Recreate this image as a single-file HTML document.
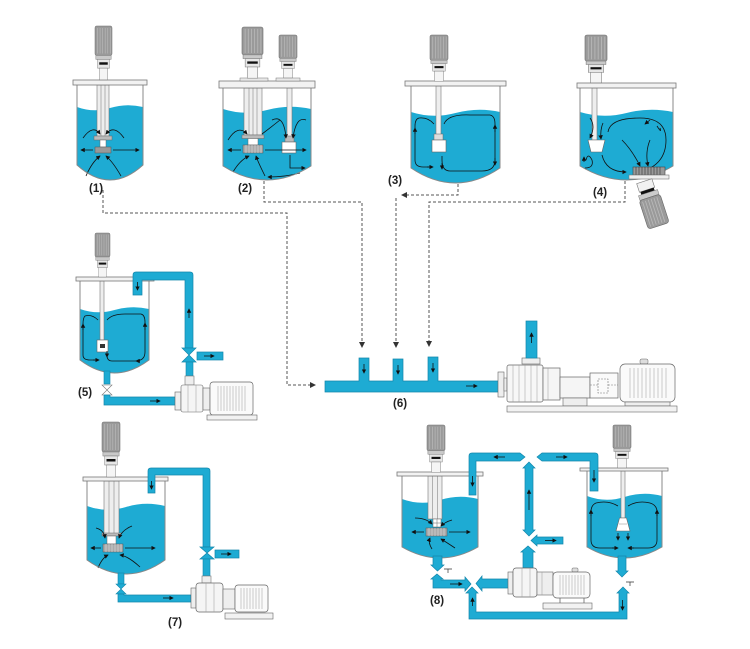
<!DOCTYPE html>
<html><head><meta charset="utf-8"><style>html,body{margin:0;padding:0;background:#fff}svg{display:block}</style></head>
<body>
<svg width="750" height="649" viewBox="0 0 750 649" xmlns="http://www.w3.org/2000/svg" xmlns:xlink="http://www.w3.org/1999/xlink" font-family="Liberation Sans, sans-serif">
<defs>
<marker id="ah" viewBox="0 0 6 6" refX="5" refY="3" markerUnits="userSpaceOnUse" markerWidth="4.5" markerHeight="4.5" orient="auto"><path d="M0 0L6 3L0 6z" fill="#111"/></marker>
<marker id="dh" viewBox="0 0 6 6" refX="5" refY="3" markerUnits="userSpaceOnUse" markerWidth="6" markerHeight="6" orient="auto"><path d="M0 0L6 3L0 6z" fill="#333"/></marker>
<g id="motor">
 <rect x="0" y="0" width="20" height="30" rx="2" fill="#9a9a9a" stroke="#6f6f6f" stroke-width="0.6"/>
 <path d="M3 2V28M6 2V28M9 2V28M12 2V28M15 2V28M18 2V28" stroke="#b8b8b8" stroke-width="0.8"/>
 <rect x="1" y="30" width="18" height="4" fill="#c9c9c9" stroke="#777" stroke-width="0.5"/>
 <rect x="3" y="34" width="14" height="9" fill="#e6e6e6" stroke="#777" stroke-width="0.5"/>
 <rect x="5" y="37" width="10" height="2.5" fill="#111"/>
 <rect x="5" y="43" width="10" height="12" fill="#f5f5f5" stroke="#777" stroke-width="0.5"/>
</g>
</defs>

<!-- ================= dashed connectors ================= -->
<g fill="none" stroke="#555" stroke-width="1" stroke-dasharray="3 2">
<path d="M103 190V213H287V385H315" marker-end="url(#dh)"/>
<path d="M264 181V202H362V347" marker-end="url(#dh)"/>
<path d="M458 184V195H402" marker-end="url(#dh)"/>
<path d="M396 198V347" marker-end="url(#dh)"/>
<path d="M625 181V202H429V346" marker-end="url(#dh)"/>
</g>

<!-- ================= TANK 1 ================= -->
<path d="M77 107Q93.5 113 110 108T143 107L143 165Q110 195 77 165Z" fill="#1eabd3"/>
<rect x="97" y="85" width="12" height="51" fill="#eeeeee" stroke="#777" stroke-width="0.6"/>
<path d="M101 85V136M105 85V136" stroke="#888" stroke-width="0.6"/>
<rect x="94" y="136" width="18" height="4" fill="#bbb" stroke="#666" stroke-width="0.5"/>
<rect x="100" y="140" width="6" height="7" fill="#fff" stroke="#666" stroke-width="0.5"/>
<rect x="95" y="147" width="16" height="6" fill="#999" stroke="#555" stroke-width="0.5"/>
<g fill="none" stroke="#111" stroke-width="0.8">
<path d="M93 150H81" marker-end="url(#ah)"/>
<path d="M113 150H139" marker-end="url(#ah)"/>
<path d="M86 176Q92 162 100 156" marker-end="url(#ah)"/>
<path d="M121 176Q113 162 106 156" marker-end="url(#ah)"/>
<path d="M83 138Q93 124 100 134" marker-end="url(#ah)"/>
<path d="M124 138Q114 124 106 134" marker-end="url(#ah)"/>
</g>
<path d="M77 85V165Q110 195 143 165V85" fill="none" stroke="#888" stroke-width="1"/>
<rect x="73" y="80" width="74" height="5" fill="#f2f2f2" stroke="#777" stroke-width="0.8"/>
<use xlink:href="#motor" transform="translate(95 26) scale(0.85 0.98)"/>
<text x="89" y="192" font-size="11.5" font-weight="bold" fill="#222">(1)</text>

<!-- ================= TANK 2 ================= -->
<path d="M223 109Q245 116 267 110T311 109L311 166Q267 194 223 166Z" fill="#1eabd3"/>
<rect x="244" y="88" width="18" height="47" fill="#eeeeee" stroke="#777" stroke-width="0.6"/>
<path d="M249 88V135M253 88V135M257 88V135" stroke="#888" stroke-width="0.6"/>
<rect x="242" y="135" width="22" height="3.5" fill="#bbb" stroke="#666" stroke-width="0.5"/>
<rect x="248" y="138.5" width="10" height="6.5" fill="#fff" stroke="#666" stroke-width="0.5"/>
<rect x="243" y="145" width="20" height="8" fill="#aaa" stroke="#555" stroke-width="0.5"/>
<path d="M246 145V153M249 145V153M252 145V153M255 145V153M258 145V153M261 145V153" stroke="#ddd" stroke-width="0.6"/>
<rect x="287" y="88" width="5" height="50" fill="#eeeeee" stroke="#777" stroke-width="0.6"/>
<rect x="285" y="136" width="9" height="6" fill="#bbb" stroke="#666" stroke-width="0.5"/>
<rect x="282" y="142" width="14" height="11" fill="#fff" stroke="#666" stroke-width="0.6"/>
<g fill="none" stroke="#111" stroke-width="0.8">
<path d="M241 150H228" marker-end="url(#ah)"/>
<path d="M265 150H306" marker-end="url(#ah)"/>
<path d="M233 172Q240 160 249 156" marker-end="url(#ah)"/>
<path d="M265 176Q258 162 256 156" marker-end="url(#ah)"/>
<path d="M228 140Q238 124 247 134" marker-end="url(#ah)"/>
<path d="M280 120Q270 128 262 134"/>
<path d="M272 120Q284 114 286 138" marker-end="url(#ah)"/>
<path d="M306 120Q296 116 293 138" marker-end="url(#ah)"/>
<path d="M290 155V168H305" marker-end="url(#ah)"/>
<path d="M300 173Q285 177 268 177" marker-end="url(#ah)"/>
</g>
<path d="M223 88V166Q267 194 311 166V88" fill="none" stroke="#888" stroke-width="1"/>
<rect x="219" y="81" width="96" height="7" fill="#f2f2f2" stroke="#777" stroke-width="0.8"/>
<rect x="240" y="78" width="28" height="3" fill="#e8e8e8" stroke="#777" stroke-width="0.5"/>
<rect x="276" y="78" width="24" height="3" fill="#e8e8e8" stroke="#777" stroke-width="0.5"/>
<use xlink:href="#motor" transform="translate(242 27) scale(1.05 0.93)"/>
<use xlink:href="#motor" transform="translate(279 35) scale(0.9 0.78)"/>
<text x="238" y="192" font-size="11.5" font-weight="bold" fill="#222">(2)</text>

<!-- ================= TANK 3 ================= -->
<path d="M411 112Q433 119 455.5 113T500 112L500 168Q455.5 198 411 168Z" fill="#1eabd3"/>
<rect x="436" y="86" width="5" height="54" fill="#eeeeee" stroke="#777" stroke-width="0.6"/>
<rect x="434" y="134" width="9" height="6" fill="#ddd" stroke="#666" stroke-width="0.5"/>
<rect x="432" y="140" width="14" height="12" fill="#fff" stroke="#666" stroke-width="0.6"/>
<g fill="none" stroke="#111" stroke-width="0.8">
<path d="M434 124Q428 117 419 118Q415 119 415 126V160Q415 167 423 167H432"/>
<path d="M444 124Q448 114 470 115H490Q495 116 495 124V160Q495 171 482 171H450Q442 171 442 160V156"/>
<path d="M415 134V128" marker-end="url(#ah)"/>
<path d="M427 167H433" marker-end="url(#ah)"/>
<path d="M495 132V125" marker-end="url(#ah)"/>
<path d="M495 158V165" marker-end="url(#ah)"/>
<path d="M442 163V169" marker-end="url(#ah)"/>
</g>
<path d="M411 86V168Q455.5 198 500 168V86" fill="none" stroke="#888" stroke-width="1"/>
<rect x="405" y="81" width="101" height="5" fill="#f2f2f2" stroke="#777" stroke-width="0.8"/>
<use xlink:href="#motor" transform="translate(430 35) scale(0.9 0.84)"/>
<text x="388" y="184" font-size="11.5" font-weight="bold" fill="#222">(3)</text>

<!-- ================= TANK 4 ================= -->
<path d="M580 112Q603 119 626.5 113T673 112L673 166Q626.5 194 580 166Z" fill="#1eabd3"/>
<rect x="592" y="88" width="5" height="52" fill="#eeeeee" stroke="#777" stroke-width="0.6"/>
<path d="M588 140H605L602 152H591Z" fill="#fff" stroke="#666" stroke-width="0.6"/>
<g fill="none" stroke="#111" stroke-width="0.8">
<path d="M590 118Q596 126 590 138" marker-end="url(#ah)"/>
<path d="M603 123Q600 130 601 139" marker-end="url(#ah)"/>
<path d="M586 160Q588 152 592 160Q594 168 585 168"/>
<path d="M584 162V157" marker-end="url(#ah)"/>
<path d="M602 155Q606 172 626 172" marker-end="url(#ah)"/>
<path d="M608 132Q610 118 640 118Q666 118 666 140Q666 165 640 172" />
<path d="M650 120L645 124" marker-end="url(#ah)"/>
<path d="M622 140Q632 150 640 166" marker-end="url(#ah)"/>
<path d="M650 140Q645 152 648 166" marker-end="url(#ah)"/>
<path d="M660 128Q662 134 657 126" />
</g>
<path d="M580 88V166Q626.5 194 673 166V88" fill="none" stroke="#888" stroke-width="1"/>
<rect x="577" y="83" width="99" height="5" fill="#f2f2f2" stroke="#777" stroke-width="0.8"/>
<use xlink:href="#motor" transform="translate(585 35) scale(1.1 0.87)"/>
<!-- side mixer -->
<rect x="633" y="167" width="32" height="8" fill="#999" stroke="#444" stroke-width="0.6"/>
<path d="M636 167V175M639 167V175M642 167V175M645 167V175M648 167V175M651 167V175M654 167V175M657 167V175M660 167V175" stroke="#333" stroke-width="0.6"/>
<rect x="629" y="175" width="40" height="4" fill="#eee" stroke="#777" stroke-width="0.6"/>
<g transform="rotate(-18 652 205)">
<rect x="644" y="180" width="16" height="9" fill="#f2f2f2" stroke="#777" stroke-width="0.6"/>
<rect x="645" y="189" width="14" height="3" fill="#111"/>
<rect x="642" y="192" width="20" height="5" fill="#ccc" stroke="#777" stroke-width="0.5"/>
<rect x="641" y="197" width="22" height="30" rx="3" fill="#9a9a9a" stroke="#666" stroke-width="0.6"/>
<path d="M644 199V225M647 199V225M650 199V225M653 199V225M656 199V225M659 199V225" stroke="#bbb" stroke-width="0.8"/>
</g>
<text x="593" y="196" font-size="11.5" font-weight="bold" fill="#222">(4)</text>

<!-- ================= TANK 5 ================= -->
<path d="M80 309Q97 315 114.5 310T149 309L149 360Q114.5 386 80 360Z" fill="#1eabd3"/>
<rect x="100" y="281" width="4" height="59" fill="#eeeeee" stroke="#777" stroke-width="0.6"/>
<rect x="97" y="340" width="11" height="12" fill="#fff" stroke="#666" stroke-width="0.6"/>
<rect x="100" y="344" width="5" height="4" fill="#333"/>
<g fill="none" stroke="#111" stroke-width="0.8">
<path d="M98 320Q92 314 85 316Q83 318 83 324V355Q83 360 90 360H98"/>
<path d="M107 320Q112 314 125 314H141Q145 315 145 322V352Q145 361 135 361H112Q107 361 107 355"/>
<path d="M83 330V324" marker-end="url(#ah)"/>
<path d="M93 360H99" marker-end="url(#ah)"/>
<path d="M145 330V323" marker-end="url(#ah)"/>
<path d="M107 351V357" marker-end="url(#ah)"/>
<path d="M140 361H136" marker-end="url(#ah)"/>
</g>
<path d="M80 281V360Q114.5 386 149 360V281" fill="none" stroke="#888" stroke-width="1"/>
<rect x="76" y="277" width="78" height="4" fill="#f2f2f2" stroke="#777" stroke-width="0.8"/>
<use xlink:href="#motor" transform="translate(95 233) scale(0.75 0.8)"/>
<!-- return pipe -->
<path d="M133 295V275Q133 272 136 272H190Q193 272 193 275V348H185V280H142V295Z" fill="#1eabd3" stroke="#1386ab" stroke-width="0.7"/>
<path d="M137.5 282V290" stroke="#111" stroke-width="0.8" marker-end="url(#ah)"/>
<path d="M189 318V309" stroke="#111" stroke-width="0.8" marker-end="url(#ah)"/>
<!-- valve -->
<path d="M182 348H196L189 355ZM182 362H196L189 355Z" fill="#1eabd3" stroke="#1386ab" stroke-width="0.7"/>
<rect x="197" y="352" width="26" height="8" fill="#1eabd3" stroke="#1386ab" stroke-width="0.7"/>
<path d="M204 356H214" stroke="#111" stroke-width="0.8" marker-end="url(#ah)"/>
<rect x="186" y="362" width="7" height="14" fill="#1eabd3" stroke="#1386ab" stroke-width="0.6"/>
<rect x="185" y="376" width="9" height="9" fill="#eee" stroke="#777" stroke-width="0.6"/>
<!-- bottom outlet -->
<rect x="104" y="371" width="6" height="13" fill="#1eabd3" stroke="#1386ab" stroke-width="0.6"/>
<path d="M102 385H112L107 390ZM102 395H112L107 390Z" fill="#fff" stroke="#777" stroke-width="0.6"/>
<path d="M104 395V405H176V397H110V395Z" fill="#1eabd3" stroke="#1386ab" stroke-width="0.7"/>
<path d="M150 401H160" stroke="#111" stroke-width="0.8" marker-end="url(#ah)"/>
<!-- pump 5 -->
<rect x="175" y="392" width="6" height="18" fill="#eee" stroke="#666" stroke-width="0.6"/>
<rect x="181" y="385" width="22" height="27" rx="2" fill="#f5f5f5" stroke="#666" stroke-width="0.6"/>
<path d="M188 385V412M196 385V412" stroke="#999" stroke-width="0.5"/>
<rect x="203" y="388" width="7" height="22" fill="#eee" stroke="#666" stroke-width="0.6"/>
<rect x="210" y="382" width="43" height="33" rx="3" fill="#fafafa" stroke="#666" stroke-width="0.7"/>
<path d="M218 386V411M221 386V411M224 386V411M227 386V411M230 386V411M233 386V411M236 386V411M239 386V411M242 386V411M245 386V411" stroke="#999" stroke-width="0.5"/>
<rect x="207" y="415" width="50" height="5" fill="#f2f2f2" stroke="#666" stroke-width="0.6"/>
<text x="78" y="396" font-size="11.5" font-weight="bold" fill="#222">(5)</text>

<!-- ================= (6) manifold + pump ================= -->
<path d="M325 381H359V358H369V381H393V359H403V381H428V357H438V381H499V392H325Z" fill="#1eabd3" stroke="#1386ab" stroke-width="0.7"/>
<g stroke="#111" stroke-width="0.8" fill="none">
<path d="M364 364V373" marker-end="url(#ah)"/>
<path d="M398 365V374" marker-end="url(#ah)"/>
<path d="M433 363V372" marker-end="url(#ah)"/>
<path d="M466 386H477" marker-end="url(#ah)"/>
</g>
<rect x="498" y="372" width="6" height="25" fill="#eee" stroke="#666" stroke-width="0.6"/>
<rect x="504" y="378" width="3" height="13" fill="#eee" stroke="#666" stroke-width="0.5"/>
<rect x="507" y="365" width="36" height="37" rx="2" fill="#f7f7f7" stroke="#666" stroke-width="0.7"/>
<path d="M513 365V402M519 365V402M525 365V402M531 365V402M537 365V402" stroke="#999" stroke-width="0.5"/>
<rect x="522" y="358" width="18" height="6" fill="#eee" stroke="#666" stroke-width="0.6"/>
<rect x="526" y="321" width="11" height="37" fill="#1eabd3" stroke="#1386ab" stroke-width="0.7"/>
<path d="M531.5 343V333" stroke="#111" stroke-width="0.8" marker-end="url(#ah)"/>
<rect x="543" y="368" width="17" height="32" fill="#f5f5f5" stroke="#666" stroke-width="0.7"/>
<path d="M548 368V400" stroke="#999" stroke-width="0.5"/>
<rect x="560" y="377" width="30" height="21" fill="#f5f5f5" stroke="#666" stroke-width="0.7"/>
<rect x="563" y="398" width="24" height="8" fill="#eee" stroke="#666" stroke-width="0.6"/>
<rect x="590" y="373" width="28" height="25" fill="#fafafa" stroke="#666" stroke-width="0.7"/>
<rect x="598" y="379" width="10" height="14" fill="none" stroke="#777" stroke-width="0.6" stroke-dasharray="2 1"/>
<path d="M590 385H598M608 385H618" stroke="#777" stroke-width="0.5" stroke-dasharray="2 1"/>
<rect x="640" y="359" width="8" height="5" rx="1.5" fill="#ddd" stroke="#666" stroke-width="0.5"/>
<rect x="620" y="364" width="55" height="38" rx="5" fill="#fafafa" stroke="#666" stroke-width="0.7"/>
<path d="M630 368V398M634 368V398M638 368V398M642 368V398M646 368V398M650 368V398M654 368V398M658 368V398M662 368V398M666 368V398" stroke="#999" stroke-width="0.5"/>
<rect x="625" y="402" width="45" height="4" fill="#eee" stroke="#666" stroke-width="0.6"/>
<rect x="507" y="406" width="170" height="6" fill="#f2f2f2" stroke="#666" stroke-width="0.6"/>
<text x="393" y="407" font-size="11.5" font-weight="bold" fill="#222">(6)</text>

<!-- ================= TANK 7 ================= -->
<path d="M87 506Q106.5 513 126 507T165 506L165 560Q126 588 87 560Z" fill="#1eabd3"/>
<rect x="104" y="481" width="15" height="53" fill="#eeeeee" stroke="#777" stroke-width="0.6"/>
<path d="M109 481V534M114 481V534" stroke="#888" stroke-width="0.6"/>
<rect x="102" y="533" width="19" height="3" fill="#bbb" stroke="#666" stroke-width="0.5"/>
<rect x="107" y="536" width="9" height="8" fill="#fff" stroke="#666" stroke-width="0.5"/>
<rect x="103" y="544" width="20" height="8" fill="#aaa" stroke="#555" stroke-width="0.5"/>
<path d="M106 544V552M109 544V552M112 544V552M115 544V552M118 544V552M121 544V552" stroke="#ddd" stroke-width="0.6"/>
<g fill="none" stroke="#111" stroke-width="0.8">
<path d="M101 548H91" marker-end="url(#ah)"/>
<path d="M125 548H155" marker-end="url(#ah)"/>
<path d="M98 568Q102 558 108 555" marker-end="url(#ah)"/>
<path d="M140 567Q128 556 120 555" marker-end="url(#ah)"/>
<path d="M96 528Q104 530 105 538" marker-end="url(#ah)"/>
<path d="M132 526Q122 530 119 538" marker-end="url(#ah)"/>
</g>
<path d="M87 481V560Q126 588 165 560V481" fill="none" stroke="#888" stroke-width="1"/>
<rect x="83" y="477" width="85" height="4" fill="#f2f2f2" stroke="#777" stroke-width="0.8"/>
<use xlink:href="#motor" transform="translate(102 422) scale(0.9 1)"/>
<path d="M148 493V471Q148 468 151 468H207Q210 468 210 471V547H203V475H155V493Z" fill="#1eabd3" stroke="#1386ab" stroke-width="0.7"/>
<path d="M151.5 481V489" stroke="#111" stroke-width="0.8" marker-end="url(#ah)"/>
<path d="M200 547H214L207 553ZM200 559H214L207 553Z" fill="#1eabd3" stroke="#1386ab" stroke-width="0.7"/>
<rect x="215" y="550" width="24" height="8" fill="#1eabd3" stroke="#1386ab" stroke-width="0.7"/>
<path d="M221 554H231" stroke="#111" stroke-width="0.8" marker-end="url(#ah)"/>
<rect x="203" y="559" width="7" height="17" fill="#1eabd3" stroke="#1386ab" stroke-width="0.6"/>
<rect x="202" y="576" width="9" height="7" fill="#eee" stroke="#777" stroke-width="0.6"/>
<rect x="118" y="573" width="6" height="11" fill="#1eabd3" stroke="#1386ab" stroke-width="0.6"/>
<path d="M116 584H126L121 589ZM116 594H126L121 589Z" fill="#1eabd3" stroke="#1386ab" stroke-width="0.6"/>
<path d="M118 594V602H191V595H124V594Z" fill="#1eabd3" stroke="#1386ab" stroke-width="0.7"/>
<path d="M163 598H173" stroke="#111" stroke-width="0.8" marker-end="url(#ah)"/>
<rect x="191" y="588" width="5" height="20" fill="#eee" stroke="#666" stroke-width="0.6"/>
<rect x="196" y="583" width="27" height="29" rx="3" fill="#f5f5f5" stroke="#666" stroke-width="0.7"/>
<path d="M206 583V612M214 583V612" stroke="#999" stroke-width="0.5"/>
<rect x="223" y="589" width="12" height="20" fill="#eee" stroke="#666" stroke-width="0.6"/>
<rect x="235" y="585" width="33" height="27" rx="3" fill="#fafafa" stroke="#666" stroke-width="0.7"/>
<path d="M241 588V609M244 588V609M247 588V609M250 588V609M253 588V609M256 588V609M259 588V609M262 588V609" stroke="#999" stroke-width="0.5"/>
<rect x="225" y="613" width="48" height="6" fill="#f2f2f2" stroke="#666" stroke-width="0.6"/>
<text x="168" y="626" font-size="11.5" font-weight="bold" fill="#222">(7)</text>

<!-- ================= TANK 8 LEFT ================= -->
<path d="M402 499Q421 506 440 500T478 499L478 547Q440 569 402 547Z" fill="#1eabd3"/>
<rect x="428" y="476" width="14" height="43" fill="#eeeeee" stroke="#777" stroke-width="0.6"/>
<path d="M432.5 476V519M437.5 476V519" stroke="#888" stroke-width="0.6"/>
<rect x="433" y="519" width="8" height="8" fill="#fff" stroke="#666" stroke-width="0.5"/>
<path d="M437 519V527M433 523H441" stroke="#666" stroke-width="0.5"/>
<rect x="426" y="528" width="21" height="8" fill="#aaa" stroke="#555" stroke-width="0.5"/>
<path d="M429 528V536M432 528V536M435 528V536M438 528V536M441 528V536M444 528V536" stroke="#ddd" stroke-width="0.6"/>
<g fill="none" stroke="#111" stroke-width="0.8">
<path d="M424 532H412" marker-end="url(#ah)"/>
<path d="M449 532H470" marker-end="url(#ah)"/>
<path d="M415 518Q426 518 432 524" marker-end="url(#ah)"/>
<path d="M452 520Q445 522 441 526" marker-end="url(#ah)"/>
<path d="M432 549Q428 543 430 538" marker-end="url(#ah)"/>
<path d="M455 548Q446 542 441 539" marker-end="url(#ah)"/>
</g>
<path d="M402 476V547Q440 569 478 547V476" fill="none" stroke="#888" stroke-width="1"/>
<rect x="397" y="472" width="86" height="4" fill="#f2f2f2" stroke="#777" stroke-width="0.8"/>
<use xlink:href="#motor" transform="translate(427 425) scale(0.9 0.86)"/>
<text x="430" y="604" font-size="11.5" font-weight="bold" fill="#222">(8)</text>

<!-- ================= TANK 8 RIGHT ================= -->
<path d="M587 496Q605.5 503 624.5 497T662 496L662 547Q624.5 569 587 547Z" fill="#1eabd3"/>
<rect x="621" y="471" width="4" height="47" fill="#eeeeee" stroke="#777" stroke-width="0.6"/>
<path d="M616 531L619.5 518H626.5L630 531Z" fill="#fff" stroke="#666" stroke-width="0.6"/>
<path d="M619 524H627" stroke="#888" stroke-width="0.5"/>
<g fill="none" stroke="#111" stroke-width="0.8">
<path d="M618 506Q608 500 596 503Q591 505 591 512V540Q591 548 600 548H617"/>
<path d="M628 506Q638 500 650 503Q657 505 657 512V540Q657 548 648 548H630"/>
<path d="M591 516V510" marker-end="url(#ah)"/>
<path d="M657 516V510" marker-end="url(#ah)"/>
<path d="M612 548H618" marker-end="url(#ah)"/>
<path d="M634 548H628" marker-end="url(#ah)"/>
<path d="M618 533V540" marker-end="url(#ah)"/>
<path d="M628 533V540" marker-end="url(#ah)"/>
</g>
<path d="M587 471V547Q624.5 569 662 547V471" fill="none" stroke="#888" stroke-width="1"/>
<rect x="580" y="468" width="88" height="3" fill="#f2f2f2" stroke="#777" stroke-width="0.8"/>
<use xlink:href="#motor" transform="translate(613 425) scale(0.9 0.78)"/>

<!-- ================= (8) pipes ================= -->
<g fill="#1eabd3" stroke="#1386ab" stroke-width="0.7">
<path d="M469 495V456Q469 453 472 453H520L525 457L520 461H476V495Z"/>
<path d="M598 491V456Q598 453 595 453H542L537 457L542 461H590V491Z"/>
<path d="M529 462L535 468H533V530H535L529 536L523 530H525V468H523Z"/>
<path d="M563 537V544H537V546L531 540.5L537 535V537Z"/>
<path d="M523 568V552H521L528 546L535 552H533V568Z"/>
<path d="M512 579V588H482V591L476 583.5L482 576V579Z"/>
<path d="M433 556H442V565H444L437.5 571L431 565H433Z"/>
<path d="M437 574L443 579H441V580H465V577L471 584L465 591V588H433V579H431Z"/>
<path d="M472 587L478 593H476V612H619V593H617L623 587L629 593H627V619H469V593H466Z"/>
<path d="M618 556H626V571H628L622 577L616 571H618Z"/>
</g>
<g fill="none" stroke="#111" stroke-width="0.8">
<path d="M472.5 476V486" marker-end="url(#ah)"/>
<path d="M505 457H494" marker-end="url(#ah)"/>
<path d="M556 457H567" marker-end="url(#ah)"/>
<path d="M594 470V482" marker-end="url(#ah)"/>
<path d="M529 510V490" marker-end="url(#ah)"/>
<path d="M545 540.5H556" marker-end="url(#ah)"/>
<path d="M450 584H462" marker-end="url(#ah)"/>
<path d="M622.5 600V610" marker-end="url(#ah)"/>
<path d="M472.5 606V598" marker-end="url(#ah)"/>
</g>
<path d="M444 569H452M448 569V573M626 582H634M630 582V586" stroke="#333" stroke-width="0.7" fill="none"/>
<!-- pump 8 -->
<rect x="508" y="572" width="5" height="22" fill="#eee" stroke="#666" stroke-width="0.6"/>
<rect x="513" y="568" width="24" height="29" rx="3" fill="#f5f5f5" stroke="#666" stroke-width="0.7"/>
<path d="M522 568V597M530 568V597" stroke="#999" stroke-width="0.5"/>
<rect x="537" y="572" width="16" height="23" fill="#eee" stroke="#666" stroke-width="0.6"/>
<path d="M542 572V595" stroke="#999" stroke-width="0.5"/>
<rect x="572" y="568" width="6" height="4" rx="1" fill="#ddd" stroke="#666" stroke-width="0.5"/>
<rect x="553" y="572" width="37" height="26" rx="4" fill="#fafafa" stroke="#666" stroke-width="0.7"/>
<path d="M560 575V595M563 575V595M566 575V595M569 575V595M572 575V595M575 575V595M578 575V595M581 575V595M584 575V595" stroke="#999" stroke-width="0.5"/>
<rect x="543" y="603" width="49" height="6" fill="#f2f2f2" stroke="#666" stroke-width="0.6"/>
<path d="M560 598V603M584 598V603" stroke="#666" stroke-width="0.8"/>
</svg>
</body></html>
